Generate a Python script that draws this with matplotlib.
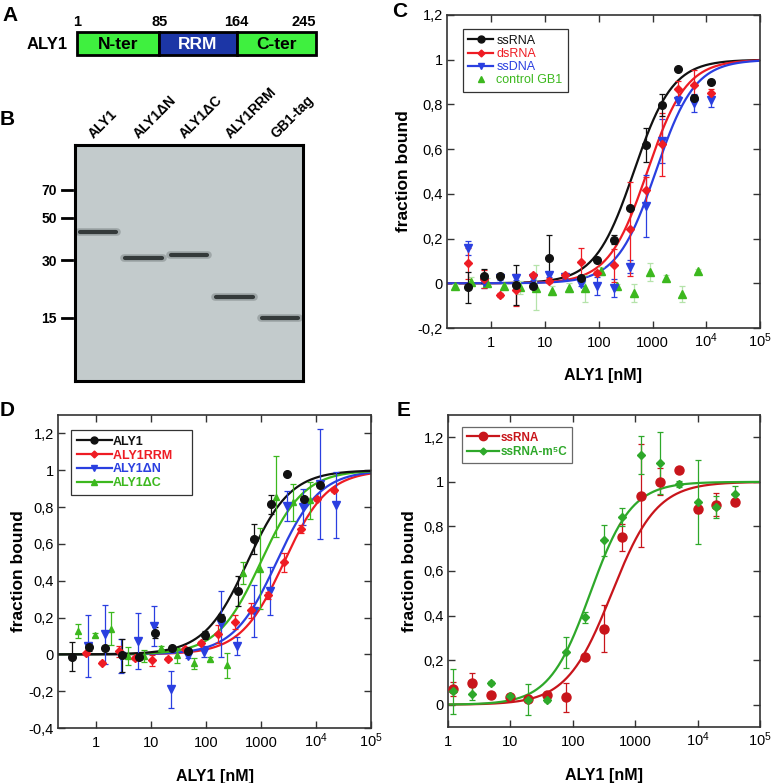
import matplotlib
matplotlib.use("Agg")
import matplotlib.pyplot as plt
import matplotlib.transforms as mtransforms
import numpy as np
from matplotlib.lines import Line2D
from matplotlib.patches import Rectangle
from matplotlib.ticker import NullLocator

plt.rcParams['font.family'] = ['Liberation Sans', 'DejaVu Sans']
plt.rcParams['mathtext.fontset'] = 'custom'
plt.rcParams['mathtext.rm'] = 'Liberation Sans'
plt.rcParams['mathtext.it'] = 'Liberation Sans:italic'
plt.rcParams['mathtext.bf'] = 'Liberation Sans:bold'

# ---- panel A: domain map
domain_names = ["N-ter", "RRM", "C-ter"]
domain_start = [1, 85, 164]
domain_end = [85, 164, 245]
domain_colors = ["#3ff03f", "#1c36a6", "#3ff03f"]
domain_text = ["black", "white", "black"]
residue_marks = [1, 85, 164, 245]

# ---- panel B: gel (apparent kDa)
lanes = ["ALY1", "ALY1ΔN", "ALY1ΔC", "ALY1RRM", "GB1-tag"]
band_kda = [42, 30.9, 32, 19.3, 15]
marker_kda = [70, 50, 30, 15]

# ---- panel C
c_ss_rna_x = [0.366, 0.732, 1.46, 2.93, 5.86, 11.7, 46.9, 93.8, 188, 375, 750, 1500, 3000, 6000, 12000]
c_ss_rna_y = [-0.018, 0.033, 0.033, -0.008, -0.012, 0.115, 0.022, 0.105, 0.195, 0.337, 0.618, 0.797, 0.96, 0.83, 0.90]
c_ss_rna_e = [0.07, 0.03, 0.01, 0.09, 0.01, 0.10, 0.01, 0.01, 0.02, 0.01, 0.075, 0.05, 0.0, 0.01, 0.01]

c_ds_rna_x = [0.366, 0.732, 1.46, 2.93, 5.86, 11.7, 23.4, 46.9, 93.8, 188, 375, 750, 1500, 3000, 6000, 12000]
c_ds_rna_y = [0.09, 0.02, -0.052, -0.03, 0.037, 0.012, 0.035, 0.095, 0.045, 0.08, 0.243, 0.417, 0.622, 0.867, 0.885, 0.85]
c_ds_rna_e = [0.07, 0.04, 0.01, 0.07, 0.01, 0.01, 0.01, 0.065, 0.01, 0.075, 0.21, 0.06, 0.14, 0.04, 0.07, 0.02]

c_ss_dna_x = [0.366, 0.732, 1.46, 2.93, 5.86, 11.7, 23.4, 46.9, 93.8, 188, 375, 750, 1500, 3000, 6000, 12000]
c_ss_dna_y = [0.157, 0.007, 0.025, 0.025, 0.025, 0.037, 0.03, -0.003, -0.012, -0.022, 0.075, 0.345, 0.637, 0.817, 0.806, 0.82]
c_ss_dna_e = [0.03, 0.03, 0.01, 0.01, 0.01, 0.01, 0.01, 0.01, 0.04, 0.04, 0.03, 0.14, 0.10, 0.02, 0.04, 0.03]

c_gb1_x = [0.21, 0.42, 0.85, 1.7, 3.4, 6.8, 13.5, 27.5, 55, 108, 222, 450, 890, 1790, 3570, 7100]
c_gb1_y = [-0.012, 0.007, 0.003, -0.012, -0.018, -0.02, -0.034, -0.02, -0.023, 0.055, -0.012, -0.045, 0.049, 0.025, -0.049, 0.055]
c_gb1_e = [0.01, 0.02, 0.02, 0.01, 0.03, 0.10, 0.02, 0.02, 0.06, 0.02, 0.01, 0.04, 0.04, 0.01, 0.035, 0.01]

c_fit_kd = {"ssRNA": 450, "dsRNA": 800, "ssDNA": 1150}
c_fit_n = 1.2

# ---- panel D
d_aly1_x = [0.366, 0.732, 1.46, 2.93, 5.86, 11.7, 23.4, 46.9, 93.8, 188, 375, 750, 1500, 3000, 6000, 12000]
d_aly1_y = [-0.013, 0.04, 0.036, -0.005, -0.013, 0.118, 0.036, 0.02, 0.105, 0.20, 0.343, 0.627, 0.815, 0.978, 0.845, 0.922]
d_aly1_e = [0.08, 0.02, 0.01, 0.09, 0.01, 0.03, 0.01, 0.01, 0.02, 0.02, 0.08, 0.08, 0.05, 0.0, 0.01, 0.01]

d_rrm_x = [0.64, 1.28, 2.56, 5.13, 10.3, 20.5, 41, 82, 164, 328, 656, 1313, 2625, 5250, 10500, 21000]
d_rrm_y = [0.005, -0.045, 0.018, -0.018, -0.031, -0.023, 0.031, 0.06, 0.112, 0.175, 0.24, 0.32, 0.50, 0.68, 0.845, 0.89]
d_rrm_e = [0.01, 0.01, 0.03, 0.01, 0.03, 0.01, 0.01, 0.01, 0.05, 0.04, 0.04, 0.02, 0.05, 0.02, 0.01, 0.01]

d_dn_x = [0.714, 1.43, 2.86, 5.71, 11.4, 22.9, 45.7, 91.4, 183, 366, 731, 1463, 2925, 5850, 11700, 23400]
d_dn_y = [0.045, 0.108, -0.009, 0.072, 0.154, -0.19, -0.01, 0.013, 0.163, 0.045, 0.235, 0.343, 0.805, 0.80, 0.925, 0.813]
d_dn_e = [0.17, 0.16, 0.09, 0.15, 0.11, 0.10, 0.01, 0.03, 0.18, 0.05, 0.14, 0.13, 0.08, 0.10, 0.30, 0.18]

d_dc_x = [0.46, 0.93, 1.86, 3.71, 7.42, 14.8, 29.7, 59.4, 119, 238, 475, 950, 1900, 3800, 7600]
d_dc_y = [0.127, 0.105, 0.14, -0.009, -0.009, 0.036, -0.005, -0.049, -0.024, -0.06, 0.443, 0.465, 0.855, 0.826, 0.837]
d_dc_e = [0.04, 0.01, 0.09, 0.05, 0.03, 0.01, 0.04, 0.03, 0.01, 0.07, 0.06, 0.22, 0.22, 0.10, 0.10]

d_fit_kd = {"ALY1": 560, "ALY1RRM": 2600, "ALY1ΔN": 1900, "ALY1ΔC": 980}
d_fit_n = 1.1

# ---- panel E
e_x = [1.22, 2.44, 4.88, 9.77, 19.5, 39.1, 78.1, 156, 313, 625, 1250, 2500, 5000, 10000, 20000, 40000]
e_ss_y = [0.07, 0.097, 0.042, 0.033, 0.025, 0.042, 0.033, 0.214, 0.341, 0.751, 0.938, 1.0, 1.052, 0.876, 0.898, 0.91]
e_ss_e = [0.03, 0.045, 0.01, 0.01, 0.01, 0.01, 0.065, 0.01, 0.105, 0.06, 0.23, 0.06, 0.01, 0.015, 0.05, 0.015]
e_m5c_y = [0.06, 0.049, 0.097, 0.04, 0.023, 0.02, 0.235, 0.392, 0.737, 0.843, 1.122, 1.085, 0.991, 0.91, 0.886, 0.946]
e_m5c_e = [0.10, 0.03, 0.01, 0.01, 0.07, 0.01, 0.07, 0.025, 0.07, 0.04, 0.085, 0.14, 0.015, 0.19, 0.05, 0.035]
e_fit = {"ssRNA": (420, 1.2), "ssRNA-m5C": (190, 1.32)}

x_ticks = [1, 10, 100, 1000, 1e4, 1e5]
x_tick_labels = ["1", "10", "100", "1000", r"$\mathregular{10^4}$", r"$\mathregular{10^5}$"]

BLACK, RED, BLUE, GREEN = "#111111", "#ee1c24", "#2a3fe0", "#3cb81e"

W, H = 774, 783


def box(x0, y0, x1, y1):
    return [x0 / W, 1 - y1 / H, (x1 - x0) / W, (y1 - y0) / H]


def hill(x, kd, n):
    return x ** n / (kd ** n + x ** n)


def comma(v):
    return f"{v:g}".replace(".", ",")


def style_binding(ax, xmin, ylo, yhi, yticks, ylabelpad, xlabelpad):
    ax.set_xscale("log")
    ax.set_xlim(xmin, 1e5)
    ax.set_ylim(ylo, yhi)
    ax.set_xticks(x_ticks)
    ax.set_xticklabels(x_tick_labels)
    ax.xaxis.set_minor_locator(NullLocator())
    ax.set_yticks(yticks)
    ax.set_yticklabels([comma(round(v, 1)) for v in yticks])
    ax.tick_params(direction="in", top=True, right=True, length=5, width=1,
                   labelsize=10.5, color="#333333")
    ax.tick_params(axis="x", pad=13.5)
    ax.tick_params(axis="y", pad=3)
    for lab in ax.get_xticklabels():
        lab.set_verticalalignment("baseline")
    for s in ax.spines.values():
        s.set_linewidth(1.2)
        s.set_color("#333333")
    ax.set_xlabel("ALY1 [nM]", fontweight="bold", fontsize=11.5, labelpad=xlabelpad)
    ax.set_ylabel("fraction bound", fontweight="bold", fontsize=12.5, labelpad=ylabelpad)


def series(ax, x, y, e, color, marker, ms, ecolor=None):
    ax.errorbar(x, y, yerr=e, fmt=marker, color=color, ms=ms, mec=color,
                ecolor=ecolor or color, elinewidth=0.9, capsize=2, capthick=0.9,
                zorder=3)


def color_legend(leg, colors):
    leg.get_frame().set_linewidth(0.9)
    for t, col in zip(leg.get_texts(), colors):
        t.set_color(col)


fig = plt.figure(figsize=(7.74, 7.83), dpi=100)

# ---------------- A
axA = fig.add_axes(box(77, 32, 316, 55))
axA.set_xlim(1, 245)
axA.set_ylim(0, 1)
axA.axis("off")
for name, s, e, fc, tc in zip(domain_names, domain_start, domain_end, domain_colors, domain_text):
    axA.add_patch(Rectangle((s, 0), e - s, 1, facecolor=fc, edgecolor="black", lw=2, clip_on=False))
    axA.text((s + e) / 2, 0.45, name, ha="center", va="center", color=tc,
             fontsize=12.5, fontweight="bold")
for i, r in enumerate(residue_marks):
    axA.text(r, 1.12, str(r), ha="center" if i < 3 else "right", va="bottom",
             fontsize=10.5, fontweight="bold")
axA.text(-0.04, 0.45, "ALY1", transform=axA.transAxes, ha="right", va="center",
         fontsize=12, fontweight="bold")

# ---------------- B
axB = fig.add_axes(box(75, 145, 303, 381))
axB.set_facecolor("#c3cbcc")
axB.set_yscale("log")
axB.set_ylim(7, 120)
axB.set_xlim(0, len(lanes))
axB.yaxis.set_minor_locator(NullLocator())
axB.set_xticks([])
axB.set_yticks(marker_kda)
axB.set_yticklabels([str(m) for m in marker_kda], fontsize=10, fontweight="bold")
axB.tick_params(axis="y", length=0, pad=13)
for s in axB.spines.values():
    s.set_linewidth(2.2)
blend = mtransforms.blended_transform_factory(axB.transAxes, axB.transData)
lblend = mtransforms.blended_transform_factory(axB.transData, axB.transAxes)
for m in marker_kda:
    axB.plot([-0.057, -0.013], [m, m], color="black", lw=2, transform=blend, clip_on=False)
for i, (lane, kda) in enumerate(zip(lanes, band_kda)):
    c = i + 0.5
    axB.plot([c - 0.42, c + 0.42], [kda, kda], color="#5a6262", lw=5.5, alpha=0.35,
             solid_capstyle="round")
    axB.plot([c - 0.40, c + 0.40], [kda, kda], color="#343a3a", lw=3.0,
             solid_capstyle="round")
    axB.text(c - 0.05, 1.015, lane, transform=lblend, rotation=45, rotation_mode="anchor",
             ha="left", va="bottom", fontsize=10, fontweight="bold")

# ---------------- C
axC = fig.add_axes(box(447, 15, 760, 328))
style_binding(axC, 0.15, -0.2, 1.2, [-0.2, 0, 0.2, 0.4, 0.6, 0.8, 1.0, 1.2], 5, 13)
xs = np.logspace(np.log10(0.15), 5, 300)
for key, col in [("ssRNA", BLACK), ("dsRNA", RED), ("ssDNA", BLUE)]:
    axC.plot(xs, hill(xs, c_fit_kd[key], c_fit_n), color=col, lw=1.6, zorder=2)
series(axC, c_gb1_x, c_gb1_y, c_gb1_e, GREEN, "^", 5.5, ecolor="#b5e3aa")
series(axC, c_ss_dna_x, c_ss_dna_y, c_ss_dna_e, BLUE, "v", 5.5)
series(axC, c_ds_rna_x, c_ds_rna_y, c_ds_rna_e, RED, "D", 4)
series(axC, c_ss_rna_x, c_ss_rna_y, c_ss_rna_e, BLACK, "o", 5.5)
hC = [Line2D([], [], color=BLACK, marker="o", ms=5, lw=1.6),
      Line2D([], [], color=RED, marker="D", ms=3.5, lw=1.6),
      Line2D([], [], color=BLUE, marker="v", ms=4.5, lw=1.6),
      Line2D([], [], color=GREEN, marker="^", ms=4.5, lw=0)]
legC = axC.legend(hC, ["ssRNA", "dsRNA", "ssDNA", "control GB1"], loc="upper left",
                  bbox_to_anchor=(0.05, 0.955), borderaxespad=0, fontsize=9,
                  handlelength=2.0, handletextpad=0.25, labelspacing=0.1,
                  frameon=True, fancybox=False, edgecolor="black", borderpad=0.45)
color_legend(legC, [BLACK, RED, BLUE, GREEN])

# ---------------- D
axD = fig.add_axes(box(58, 415, 371, 728))
style_binding(axD, 0.2, -0.4, 1.3, [-0.4, -0.2, 0, 0.2, 0.4, 0.6, 0.8, 1.0, 1.2], 2, 14)
xs = np.logspace(np.log10(0.2), 5, 300)
for key, col in [("ALY1RRM", RED), ("ALY1ΔN", BLUE), ("ALY1ΔC", GREEN), ("ALY1", BLACK)]:
    axD.plot(xs, hill(xs, d_fit_kd[key], d_fit_n), color=col, lw=1.6, zorder=2)
series(axD, d_dc_x, d_dc_y, d_dc_e, GREEN, "^", 5)
series(axD, d_dn_x, d_dn_y, d_dn_e, BLUE, "v", 5.5)
series(axD, d_rrm_x, d_rrm_y, d_rrm_e, RED, "D", 4)
series(axD, d_aly1_x, d_aly1_y, d_aly1_e, BLACK, "o", 5.5)
hD = [Line2D([], [], color=BLACK, marker="o", ms=5, lw=1.6),
      Line2D([], [], color=RED, marker="D", ms=3.5, lw=1.6),
      Line2D([], [], color=BLUE, marker="v", ms=4.5, lw=1.6),
      Line2D([], [], color=GREEN, marker="^", ms=4.5, lw=1.6)]
legD = axD.legend(hD, ["ALY1", "ALY1RRM    ", "ALY1ΔN", "ALY1ΔC"], loc="upper left",
                  bbox_to_anchor=(0.042, 0.952), borderaxespad=0,
                  prop={"size": 9, "weight": "bold"},
                  handlelength=2.8, handletextpad=0.1, labelspacing=0.15,
                  frameon=True, fancybox=False, edgecolor="black", borderpad=0.45)
color_legend(legD, [BLACK, RED, BLUE, GREEN])

# ---------------- E
E_RED, E_GREEN = "#c8151b", "#2ea82a"
axE = fig.add_axes(box(448, 415, 760, 727))
style_binding(axE, 1, -0.1, 1.3, [0, 0.2, 0.4, 0.6, 0.8, 1.0, 1.2], 5, 14)
xs = np.logspace(0, 5, 300)
kd, n = e_fit["ssRNA"]
axE.plot(xs, hill(xs, kd, n), color=E_RED, lw=1.6, zorder=2)
kd, n = e_fit["ssRNA-m5C"]
axE.plot(xs, hill(xs, kd, n), color=E_GREEN, lw=1.6, zorder=2)
series(axE, e_x, e_ss_y, e_ss_e, E_RED, "o", 6.5)
series(axE, e_x, e_m5c_y, e_m5c_e, E_GREEN, "D", 4)
hE = [Line2D([], [], color=E_RED, marker="o", ms=6, lw=1.6),
      Line2D([], [], color=E_GREEN, marker="D", ms=3.5, lw=1.6)]
legE = axE.legend(hE, ["ssRNA", "ssRNA-m⁵C"], loc="upper left",
                  bbox_to_anchor=(0.045, 0.962), borderaxespad=0,
                  prop={"size": 8.5, "weight": "bold"},
                  handlelength=2.7, handletextpad=0.2, labelspacing=0.2,
                  frameon=True, fancybox=False, edgecolor="#444444", borderpad=0.4)
color_legend(legE, [E_RED, E_GREEN])

# panel letters
for letter, px, py in [("A", 2, 6), ("B", 0, 110), ("C", 392, 2), ("D", 0, 401), ("E", 397, 401)]:
    fig.text(px / W, 1 - py / H, letter, ha="left", va="top", fontsize=15, fontweight="bold")

fig.savefig("out.png", dpi=100)
